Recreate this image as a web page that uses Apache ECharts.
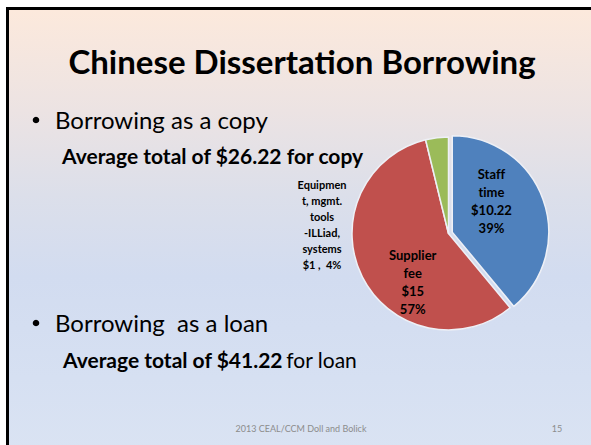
<!DOCTYPE html>
<html>
<head>
<meta charset="utf-8">
<script src="https://cdn.jsdelivr.net/npm/echarts@6/dist/echarts.min.js"></script>
<style>
  html, body { margin: 0; padding: 0; width: 591px; height: 445px; overflow: hidden; background: #ffffff; }
  #slide { position: absolute; left: 6px; top: 7px; width: 600px; height: 460px;
    border-top: 3px solid #000; border-left: 3px solid #000;
    background: linear-gradient(to bottom, #fce9dc 0%, #ece3e3 22%, #dcdfea 40%, #d2dcf0 58%, #d6e0f2 80%, #dbe4f3 100%); }
  #chart { position: absolute; left: 0; top: 0; width: 591px; height: 445px; }
  #chart svg text { font-variant-ligatures: none; }
</style>
</head>
<body>
<div id="slide"></div>
<div id="chart"></div>
<script>
// ---- data ----
const categories = ["Staff\ntime", "Supplier\nfee", "Equipmen\nt, mgmt.\ntools\n-ILLiad,\nsystems"];
const values = [10.22, 15, 1];
const valueLabels = ["$10.22", "$15", "$1"];
const colors = ["#4f81bd", "#c0504d", "#9bbb59"];
const titleText = "Chinese Dissertation Borrowing";
const bullets = ["Borrowing as a copy", "Borrowing  as a loan"];
const footerText = "2013 CEAL/CCM Doll and Bolick";
const pageNumber = "15";

const FONT = "Lato, 'Open Sans', sans-serif";

// label placement tweaks: horizontal padding + vertical spacer line
const labelStyles = [
  { position: 'inside', fontSize: 13, lineHeight: 18, padding: [0, 18, 0, 0], spacerTop: 0, spacerBottom: 28 },
  { position: 'inside', fontSize: 13, lineHeight: 18, padding: [0, 0, 0, 20], spacerTop: 51, spacerBottom: 0 },
  { position: 'center', fontSize: 11, lineHeight: 16, padding: [0, 253, 0, 0], spacerTop: 0, spacerBottom: 19 }
];

const total = values.reduce((a, b) => a + b, 0);
const pieData = categories.map((c, i) => {
  const ls = labelStyles[i];
  return {
    name: c,
    value: values[i],
    selected: i === 0,
    itemStyle: { color: colors[i] },
    label: {
      show: true,
      position: ls.position,
      padding: ls.padding,
      formatter: function (p) {
        const pct = Math.round(p.value / total * 100) + '%';
        const lines = p.name.split('\n');
        if (i === 2) lines.push(valueLabels[i] + ' ,  ' + pct);
        else { lines.push(valueLabels[i]); lines.push(pct); }
        let out = lines.map(l => '{t|' + l + '}');
        if (ls.spacerTop) out.unshift('{st| }');
        if (ls.spacerBottom) out.push('{sb| }');
        return out.join('\n');
      },
      rich: {
        t: { color: '#000', fontWeight: 'bold', fontFamily: FONT, fontSize: ls.fontSize, lineHeight: ls.lineHeight, align: 'center' },
        st: { fontSize: 2, lineHeight: ls.spacerTop || 1 },
        sb: { fontSize: 2, lineHeight: ls.spacerBottom || 1 }
      }
    }
  };
});

const chart = echarts.init(document.getElementById('chart'), null, { renderer: 'svg' });
chart.setOption({
  backgroundColor: 'transparent',
  animation: false,
  series: [{
    type: 'pie',
    center: [448.5, 233.5],
    radius: [0, 96.5],
    startAngle: 90,
    clockwise: true,
    selectedMode: 'single',
    selectedOffset: 4,
    avoidLabelOverlap: false,
    minShowLabelAngle: 0,
    itemStyle: { borderColor: '#eef0f6', borderWidth: 1.5 },
    labelLine: { show: false },
    emphasis: { disabled: true },
    data: pieData
  }],
  graphic: [
    { type: 'text', style: { text: titleText, x: 302, y: 61, textAlign: 'center', textVerticalAlign: 'middle',
        font: "bold 33px " + FONT, fill: '#000' } },
    { type: 'circle', shape: { cx: 36, cy: 120, r: 3.3 }, style: { fill: '#000' } },
    { type: 'text', style: { text: bullets[0], x: 55, y: 119, textVerticalAlign: 'middle',
        font: "24px " + FONT, fill: '#000' } },
    { type: 'text', style: { text: 'Average total of $' + total.toFixed(2) + ' for copy', x: 62, y: 155, textVerticalAlign: 'middle',
        font: "bold 21px " + FONT, fill: '#000' } },
    { type: 'circle', shape: { cx: 36, cy: 323, r: 3.3 }, style: { fill: '#000' } },
    { type: 'text', style: { text: bullets[1], x: 55, y: 322, textVerticalAlign: 'middle',
        font: "24px " + FONT, fill: '#000' } },
    { type: 'text', style: { text: '{b|Average total of $41.22} {r|for loan}', x: 63, y: 359, textVerticalAlign: 'middle',
        rich: { b: { fontSize: 21, fontWeight: 'bold', fontFamily: FONT, fill: '#000', color: '#000' },
                r: { fontSize: 21, fontFamily: FONT, fill: '#000', color: '#000' } } } },
    { type: 'text', style: { text: footerText, x: 301, y: 428, textAlign: 'center', textVerticalAlign: 'middle',
        font: "9px " + FONT, fill: '#8c8c8c' } },
    { type: 'text', style: { text: pageNumber, x: 557, y: 428, textAlign: 'center', textVerticalAlign: 'middle',
        font: "9px " + FONT, fill: '#8c8c8c' } }
  ]
});
</script>
</body>
</html>
